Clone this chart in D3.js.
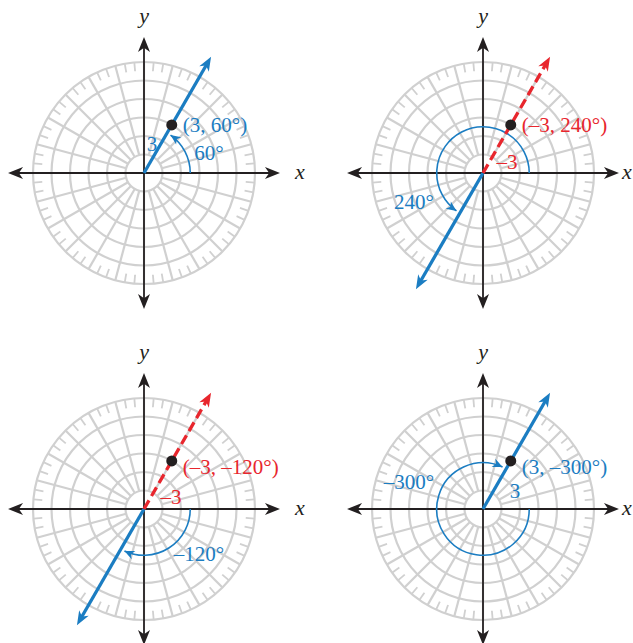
<!DOCTYPE html>
<html><head><meta charset="utf-8">
<script src="https://cdnjs.cloudflare.com/ajax/libs/d3/7.8.5/d3.min.js"></script>
<style>html,body{margin:0;padding:0;background:#fff;}svg{display:block;}</style>
</head><body>
<script>
// ---- data ----
const rValues = [3, -3, -3, 3];
const thetaValues = [60, 240, -120, -300];
const pointLabels = ["(3, 60°)", "(–3, 240°)", "(–3, –120°)", "(3, –300°)"];
const angleLabels = ["60°", "240°", "–120°", "–300°"];
const radiusLabels = ["3", "–3", "–3", "3"];
const gridRings = [1, 2, 3, 4, 5, 6];
const spokeAngles = d3.range(0, 360, 15);
const tickAngles = d3.range(0, 360, 5).filter(a => a % 15 !== 0);
const axisLabels = ["x", "y"];

// ---- layout ----
const W = 633, H = 643;
const centers = [[144, 173], [483, 173], [144, 509], [483, 509]];
const angleLabelPos = [[209, 160], [414, 209], [199, 561], [409, 489]];
const radiusLabelPos = [[152, 151], [507, 169], [171, 504], [515, 498]];
const pointLabelDy = [7, 7, 13, 13];
const BLUE = "#1b7dc2", RED = "#e8262d", GRAY = "#d0d0d0", BLACK = "#231f20";
const FONT = "'Liberation Serif', 'Times New Roman', serif";

const rScale = d3.scaleLinear().domain([0, 6]).range([0, 111]);
const rayLen = 7.25, axisLen = 7.35, arcR = 2.5;

const svg = d3.select("body").append("svg").attr("width", W).attr("height", H);

function polar(r, deg) {
  const a = deg * Math.PI / 180;
  return [rScale(r) * Math.cos(a), -rScale(r) * Math.sin(a)];
}
function arrowHead(g, x, y, deg, color, len, wid) {
  g.append("path")
    .attr("d", `M0,0 L${-len},${-wid / 2} L${-len * 0.72},0 L${-len},${wid / 2} Z`)
    .attr("fill", color)
    .attr("transform", `translate(${x},${y}) rotate(${-deg})`);
}

centers.forEach((c, i) => {
  const g = svg.append("g").attr("transform", `translate(${c[0]},${c[1]})`);
  g.selectAll("circle.ring").data(gridRings).join("circle")
    .attr("r", d => rScale(d)).attr("fill", "none")
    .attr("stroke", GRAY).attr("stroke-width", 2.2);
  g.selectAll("line.spoke").data(spokeAngles).join("line")
    .attr("x1", d => polar(1, d)[0]).attr("y1", d => polar(1, d)[1])
    .attr("x2", d => polar(6, d)[0]).attr("y2", d => polar(6, d)[1])
    .attr("stroke", GRAY).attr("stroke-width", 2.2);
  g.selectAll("line.tick").data(tickAngles).join("line")
    .attr("x1", d => polar(5.52, d)[0]).attr("y1", d => polar(5.52, d)[1])
    .attr("x2", d => polar(6, d)[0]).attr("y2", d => polar(6, d)[1])
    .attr("stroke", GRAY).attr("stroke-width", 1.8);

  [0, 90, 180, 270].forEach(a => {
    const e = polar(axisLen - 0.3, a), t = polar(axisLen, a);
    g.append("line").attr("x1", 0).attr("y1", 0).attr("x2", e[0]).attr("y2", e[1])
      .attr("stroke", BLACK).attr("stroke-width", 1.8);
    arrowHead(g, t[0], t[1], a, BLACK, 15, 12);
  });
  const xl = polar(axisLen + 0.6, 0), yl = polar(axisLen + 0.6, 90);
  const xShift = c[0] + xl[0] + 4 > 622 ? 622 - c[0] - xl[0] - 4 : 0;
  g.append("text").attr("x", xl[0] + 4 + xShift).attr("y", xl[1] + 6).text(axisLabels[0])
    .attr("font-family", FONT).attr("font-style", "italic").attr("font-size", 22).attr("fill", BLACK);
  g.append("text").attr("x", yl[0]).attr("y", yl[1] - 3).text(axisLabels[1]).attr("text-anchor", "middle")
    .attr("font-family", FONT).attr("font-style", "italic").attr("font-size", 22).attr("fill", BLACK);

  const r = rValues[i], th = thetaValues[i];
  const pointDir = r < 0 ? th + 180 : th;

  const endDeg = th - Math.sign(th) * 5;
  const p = d3.path();
  p.arc(0, 0, rScale(arcR), 0, -endDeg * Math.PI / 180, th > 0);
  g.append("path").attr("d", p.toString()).attr("fill", "none")
    .attr("stroke", BLUE).attr("stroke-width", 1.6);
  const tip = polar(arcR, endDeg);
  const tangentDeg = endDeg + (th > 0 ? 90 : -90);
  arrowHead(g, tip[0], tip[1], tangentDeg, BLUE, 10, 9);

  const be = polar(rayLen - 0.4, th), bt = polar(rayLen, th);
  g.append("line").attr("x1", 0).attr("y1", 0).attr("x2", be[0]).attr("y2", be[1])
    .attr("stroke", BLUE).attr("stroke-width", 3.3);
  arrowHead(g, bt[0], bt[1], th, BLUE, 14, 11);

  if (r < 0) {
    const re = polar(rayLen - 0.4, pointDir), rt = polar(rayLen, pointDir);
    g.append("line").attr("x1", 0).attr("y1", 0).attr("x2", re[0]).attr("y2", re[1])
      .attr("stroke", RED).attr("stroke-width", 3.3).attr("stroke-dasharray", "10,5");
    arrowHead(g, rt[0], rt[1], pointDir, RED, 14, 11);
  }

  const pt = polar(Math.abs(r), pointDir);
  g.append("circle").attr("cx", pt[0]).attr("cy", pt[1]).attr("r", 5.5).attr("fill", BLACK);

  const labColor = r < 0 ? RED : BLUE;
  g.append("text").attr("x", pt[0] + 11).attr("y", pt[1] + pointLabelDy[i]).text(pointLabels[i])
    .attr("font-family", FONT).attr("font-size", 21).attr("fill", labColor);
  g.append("text").attr("x", angleLabelPos[i][0] - c[0]).attr("y", angleLabelPos[i][1] - c[1])
    .attr("text-anchor", "middle").text(angleLabels[i])
    .attr("font-family", FONT).attr("font-size", 21).attr("fill", BLUE);
  g.append("text").attr("x", radiusLabelPos[i][0] - c[0]).attr("y", radiusLabelPos[i][1] - c[1])
    .attr("text-anchor", "middle").text(radiusLabels[i])
    .attr("font-family", FONT).attr("font-size", 21).attr("fill", labColor);
});
</script>
</body></html>
